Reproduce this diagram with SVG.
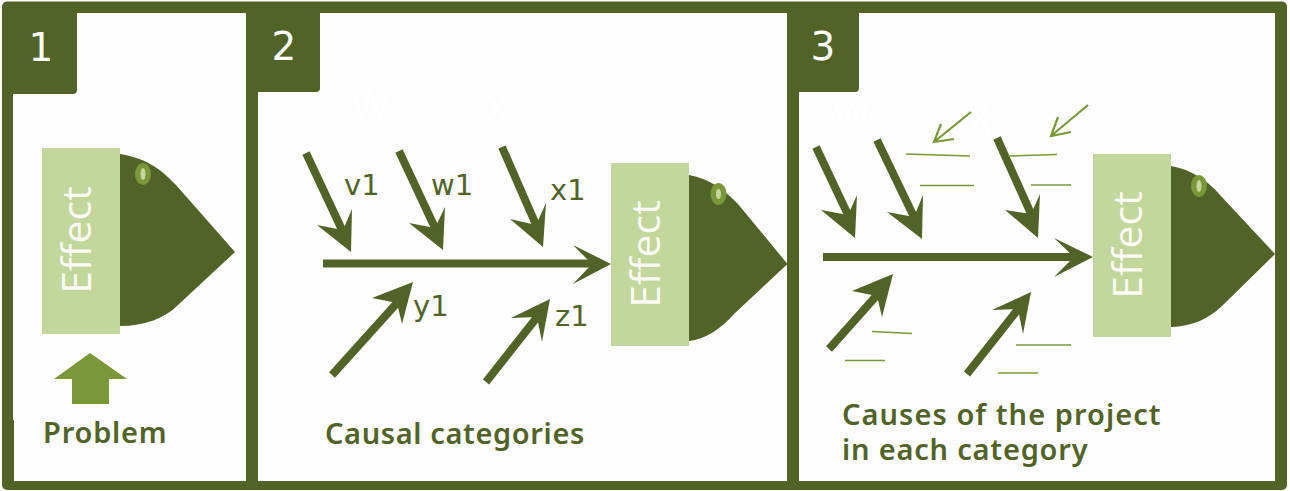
<svg xmlns="http://www.w3.org/2000/svg" width="1290" height="491" viewBox="0 0 1290 491">
<style>
.dark{fill:#526328}
.eff{fill:#c3d69b}
.efft{font:41px "Open Sans",sans-serif;fill:#fff;fill-opacity:.92;text-anchor:middle}
.num{font:39px "DejaVu Sans",sans-serif;fill:#fff;text-anchor:middle}
.lab{font:29px "DejaVu Sans",sans-serif;fill:#526328}
.cap{font:600 29px "Noto Sans",sans-serif;fill:#526328}
.faint{font:41px "Open Sans",sans-serif;fill:#fff}
.shaft{stroke:#526328;stroke-width:8;fill:none}
.head{fill:#526328}
.thin{stroke:#7a983a;stroke-width:1.6;fill:none}
.thin2{stroke:#7a983a;stroke-width:2.2;fill:none}
</style>
<rect width="1290" height="491" fill="#fdfdfd"/>
<g id="frame">
<path class="dark" fill-rule="evenodd" d="M7 1.500H1282a5 5 0 0 1 5 5V485a5 5 0 0 1-5 5H7a5 5 0 0 1-5-5V6.500a5 5 0 0 1 5-5Z M13 94V420H14V481H246V13H77V90a4 4 0 0 1-4 4Z M258 92V481H787V13H320V88a4 4 0 0 1-4 4Z M799 92V481H1275V13H859V88a4 4 0 0 1-4 4Z"/>
</g>
<g id="panel-1">
<text class="num" x="41" y="61">1</text>
<g id="fish-1">
<path class="dark" d="M120 154C145 158 160 168 176 185L235 252L178 305C165 318 145 326 120 326Z"/>
<ellipse cx="143" cy="174" rx="8" ry="11" fill="#7a983a"/>
<ellipse cx="143" cy="174" rx="2.500" ry="6" fill="#c3d69b"/>
<rect class="eff" x="42" y="148" width="78" height="186"/>
<text class="efft" transform="translate(91 240) rotate(-90)">Effect</text>
</g>
<path id="problem-arrow" fill="#7a983a" d="M90 353L127 379H109V404H72V379H54Z"/>
<text class="cap" x="43" y="443" letter-spacing=".8">Problem</text>
</g>
<g id="panel-2">
<text class="num" x="284" y="60">2</text>
<text class="faint" x="352" y="120">W</text>
<text class="faint" x="485" y="123">X</text>
<g id="fish-2">
<path class="dark" d="M689 175C710 179 725 190 738 204L787.500 264L735 313C720 330 705 339 689 341Z"/>
<ellipse cx="718.500" cy="194" rx="8" ry="11" fill="#7a983a"/>
<ellipse cx="718.500" cy="194" rx="2.500" ry="5" fill="#c3d69b"/>
<rect class="eff" x="611" y="163" width="78" height="183"/>
<text class="efft" transform="translate(660 254) rotate(-90)">Effect</text>
</g>
<text class="lab" x="344" y="195">v1</text>
<text class="lab" x="431" y="195">w1</text>
<text class="lab" x="550" y="200">x1</text>
<text class="lab" x="413" y="316">y1</text>
<text class="lab" x="555" y="326">z1</text>
<text class="cap" x="325" y="444" letter-spacing=".62">Causal categories</text>
</g>
<g id="panel-3">
<text class="num" x="823" y="60">3</text>
<text class="faint" x="833" y="130">W</text>
<text class="faint" x="968" y="133">X</text>
<g id="fish-3">
<path class="dark" d="M1171 166C1192 170 1207 180 1220 195L1275 254L1222 306C1207 320 1192 326 1171 327Z"/>
<ellipse cx="1199" cy="186" rx="8" ry="11" fill="#7a983a"/>
<ellipse cx="1199" cy="186" rx="2.500" ry="6" fill="#c3d69b"/>
<rect class="eff" x="1093" y="154" width="78" height="183"/>
<text class="efft" transform="translate(1142 245) rotate(-90)">Effect</text>
</g>
<text class="cap"><tspan x="842" y="425" letter-spacing="1.05">Causes of the project</tspan><tspan x="842" y="460" letter-spacing=".8">in each category</tspan></text>
</g>
<g id="connectors">
<path class="shaft" d="M306 153L343 232"/><path class="head" d="M351 252L317 225L343 230L352 209Z"/>
<path class="shaft" d="M399 151L436 230"/><path class="head" d="M443 250L409 223L435 228L445 207Z"/>
<path class="shaft" d="M502 147L537 227"/><path class="head" d="M543 247L510 219L536 225L546 203Z"/>
<path class="shaft" d="M323 263.500H595"/><path class="head" d="M611 264L573 245L592 264L573 284Z"/>
<path class="shaft" d="M332 375L397 303"/><path class="head" d="M413 282L372 298L397 303L402 324Z"/>
<path class="shaft" d="M486 382L538 316"/><path class="head" d="M550 299L511 318L537 317L542 342Z"/>
<path class="shaft" d="M816 147L849 217"/><path class="head" d="M855 238L821 210L848 215L857 195Z"/>
<path class="shaft" d="M877 140L915 219"/><path class="head" d="M922 239L887 212L914 217L923 195Z"/>
<path class="shaft" d="M997 138L1032 216"/><path class="head" d="M1038 238L1005 210L1031 214L1040 194Z"/>
<path class="shaft" d="M823 257H1078"/><path class="head" d="M1093 257L1054 238L1074 257L1054 277Z"/>
<path class="shaft" d="M829 349L878 294"/><path class="head" d="M893 274L852 291L877 296L882 317Z"/>
<path class="shaft" d="M967 374L1019 308"/><path class="head" d="M1031 292L992 310L1018 309L1023 334Z"/>
<path class="thin2" d="M971 112L934 142M941 124L934 142L954 139"/>
<path class="thin2" d="M1088 105L1051 136M1058 117L1051 136L1071 132"/>
<path class="thin" d="M906 154L970 156M920 185.500H974M1008 156L1057 154.500M1031 185H1071M872 331.500L912 333.500M845 360.500H885M1016 345H1071M998 373H1038"/>
</g>
</svg>
